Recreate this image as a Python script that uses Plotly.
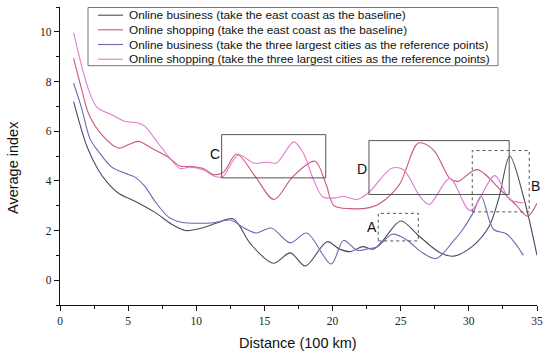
import plotly.graph_objects as go

# ---------------- data ----------------
names = [
    "Online business (take the east coast as the baseline)",
    "Online shopping (take the east coast as the baseline)",
    "Online business (take the three largest cities as the reference points)",
    "Online shopping (take the three largest cities as the reference points)",
]
colors = ["#4a4a68", "#c85a72", "#6a6ab4", "#e27ad0"]

biz_east_x = [1, 1.5, 2, 2.8, 3.5, 4.3, 5.5, 7, 8.2, 9.2, 10.4, 11.5, 12.7, 14, 15.65, 16.9, 18,
              19.6, 20.5, 21.3, 22.2, 23, 23.7, 25, 26.3, 27.9, 28.9, 30.3, 31.5, 32.2, 33, 34, 35]
biz_east_y = [7.19, 6.2, 5.35, 4.45, 3.92, 3.5, 3.18, 2.72, 2.25, 2.0, 2.1, 2.3, 2.47, 1.45, 0.68, 1.1, 0.57,
              1.55, 1.25, 1.15, 1.35, 1.25, 1.6, 2.38, 1.8, 1.1, 0.97, 1.38, 2.18, 3.3, 5.0, 3.38, 1.0]

shop_east_x = [1, 1.6, 2.1, 3.06, 4.28, 5, 5.75, 6.7, 7.95, 8.8, 9.7, 10.5, 11.3, 12, 12.96, 14.3, 15.7,
               17.1, 18.7, 19.5, 20.1, 21.3, 22.7, 23.5, 24.9, 26.3, 27.4, 28.6, 29.2, 30.6, 32.3, 33.5,
               34.3, 35]
shop_east_y = [8.93, 7.66, 6.7, 5.86, 5.32, 5.45, 5.59, 5.32, 4.95, 4.6, 4.58, 4.5, 4.25, 4.35, 5.08, 4.2, 3.25,
               4.18, 4.79, 3.9, 3.0, 2.88, 2.92, 3.1, 3.85, 5.52, 5.25, 4.1, 3.98, 4.45, 3.65, 3.0,
               2.58, 3.1]

biz_city_x = [1, 1.6, 2.2, 2.8, 3.8, 4.8, 5.5, 6.2, 7, 7.95, 8.9, 10.4, 11.25, 12.5, 13.5, 14.4, 15.5,
              16.9, 18.1, 19.9, 20.8, 21.8, 22.5, 23.3, 24.4, 25.5, 26.4, 27.6, 28.9, 29.5, 30.3, 30.9,
              31.8, 32.8, 34]
biz_city_y = [7.93, 6.9, 5.7, 5.2, 4.55, 4.3, 4.15, 3.8, 3.15, 2.55, 2.33, 2.29, 2.31, 2.42, 2.1, 1.9, 2.1,
              1.5, 1.9, 0.65, 1.6, 1.2, 1.25, 1.35, 1.85, 1.6, 1.18, 0.87, 1.6, 2.0, 2.7, 3.38,
              2.05, 1.85, 1.0]

shop_city_x = [1, 1.6, 2.1, 2.7, 3.8, 4.8, 5.75, 6.24, 7, 7.95, 8.8, 9.5, 10.5, 11.3, 11.9, 13.1, 14.2,
               15.2, 15.9, 17.15, 17.85, 18.6, 19.3, 20.3, 20.8, 21.8, 22.7, 24.3, 25.2, 26.4, 27.1,
               28.6, 30.1, 31.9, 33, 34]
shop_city_y = [9.97, 8.6, 7.66, 6.97, 6.66, 6.39, 6.33, 6.19, 5.66, 4.99, 4.5, 4.55, 4.45, 4.2, 4.15, 5.05, 4.72,
               4.75, 4.72, 5.57, 5.12, 4.05, 3.35, 3.32, 3.38, 3.25, 3.55, 4.5, 4.45, 3.38, 3.05,
               4.1, 2.8, 4.21, 3.25, 3.12]

series_x = [biz_east_x, shop_east_x, biz_city_x, shop_city_x]
series_y = [biz_east_y, shop_east_y, biz_city_y, shop_city_y]

# highlight boxes (data units)
box_labels = ["C", "D", "A", "B"]
box_x0 = [11.86, 22.67, 23.35, 30.25]
box_x1 = [19.5, 32.96, 26.29, 34.43]
box_y0 = [4.12, 3.45, 1.58, 2.75]
box_y1 = [5.86, 5.62, 2.69, 5.22]
box_dash = ["solid", "solid", "dot", "dot"]
label_x = [11.37, 22.13, 22.87, 34.92]
label_y = [5.1, 4.48, 2.14, 3.78]

x_ticks = [0, 5, 10, 15, 20, 25, 30, 35]
y_ticks = [0, 2, 4, 6, 8, 10]

# ---------------- figure ----------------
W, H = 550, 356
ML, MR, MT, MB = 60, 13, 7, 51
PW, PH = W - ML - MR, H - MT - MB
SANS = "Liberation Sans, Arial, sans-serif"
SERIF = "Liberation Serif, Times New Roman, DejaVu Serif, serif"


def px2paper(px, py):
    return (px - ML) / PW, (H - MB - py) / PH


fig = go.Figure()
for nm, xs, ys, c in zip(names, series_x, series_y, colors):
    fig.add_trace(go.Scatter(x=xs, y=ys, mode="lines", name=nm,
                             line=dict(color=c, width=1.1, shape="spline", smoothing=0.9),
                             showlegend=False, hoverinfo="skip"))

shapes = []
annotations = []
for lab, x0, x1, y0, y1, d, lx, ly in zip(box_labels, box_x0, box_x1, box_y0, box_y1, box_dash,
                                          label_x, label_y):
    shapes.append(dict(type="rect", xref="x", yref="y", x0=x0, x1=x1, y0=y0, y1=y1,
                       line=dict(color="#555555", width=1, dash=d)))
    annotations.append(dict(x=lx, y=ly, xref="x", yref="y", text=lab, showarrow=False,
                            xanchor="center", yanchor="middle",
                            font=dict(family=SANS, size=14, color="#111111")))

# manual legend
lx0, ly0 = px2paper(88, 7.5)
lx1, ly1 = px2paper(498, 65.7)
shapes.append(dict(type="rect", xref="paper", yref="paper", x0=lx0, x1=lx1, y0=ly1, y1=ly0,
                   line=dict(color="#777777", width=1), fillcolor="white", layer="below"))
row_y = [15.2, 29.8, 44.5, 59.2]
for nm, c, ry in zip(names, colors, row_y):
    a0, b0 = px2paper(98, ry)
    a1, _ = px2paper(123, ry)
    shapes.append(dict(type="line", xref="paper", yref="paper", x0=a0, x1=a1, y0=b0, y1=b0,
                       line=dict(color=c, width=1.1)))
    tx, _ = px2paper(127, ry)
    annotations.append(dict(x=tx, y=b0, xref="paper", yref="paper", xanchor="left", yanchor="middle",
                            text=nm, showarrow=False,
                            font=dict(family=SANS, size=11.8, color="#111111")))

# axis titles
tx, ty = px2paper(13, 168)
annotations.append(dict(x=tx, y=ty, xref="paper", yref="paper", text="Average index", textangle=-90,
                        xanchor="center", yanchor="middle",
                        showarrow=False, font=dict(family=SANS, size=14.5, color="#111111")))
tx, ty = px2paper(298, 343)
annotations.append(dict(x=tx, y=ty, xref="paper", yref="paper", text="Distance (100 km)",
                        xanchor="center", yanchor="middle",
                        showarrow=False, font=dict(family=SANS, size=14.5, color="#111111")))

axis_common = dict(showgrid=False, zeroline=False, showline=True, linecolor="#111111", linewidth=1.2,
                   ticks="outside", ticklen=5, tickwidth=1, tickcolor="#111111",
                   tickfont=dict(family=SERIF, size=11.5, color="#222222"))

fig.update_layout(
    width=W, height=H, margin=dict(l=ML, r=MR, t=MT, b=MB),
    paper_bgcolor="white", plot_bgcolor="white",
    xaxis=dict(range=[0, 35], tickvals=x_ticks, ticktext=[str(v) for v in x_ticks],
               minor=dict(dtick=2.5, ticks="outside", ticklen=3, tickcolor="#111111"),
               **axis_common),
    yaxis=dict(range=[-1, 11], tickvals=y_ticks, ticktext=[str(v) for v in y_ticks],
               minor=dict(dtick=1, tick0=-1, ticks="outside", ticklen=3, tickcolor="#111111"),
               **axis_common),
    shapes=shapes, annotations=annotations,
)

fig.write_html("out.html", config={"displayModeBar": False},
               post_script="document.body.style.margin='0';document.body.style.overflow='hidden';")
